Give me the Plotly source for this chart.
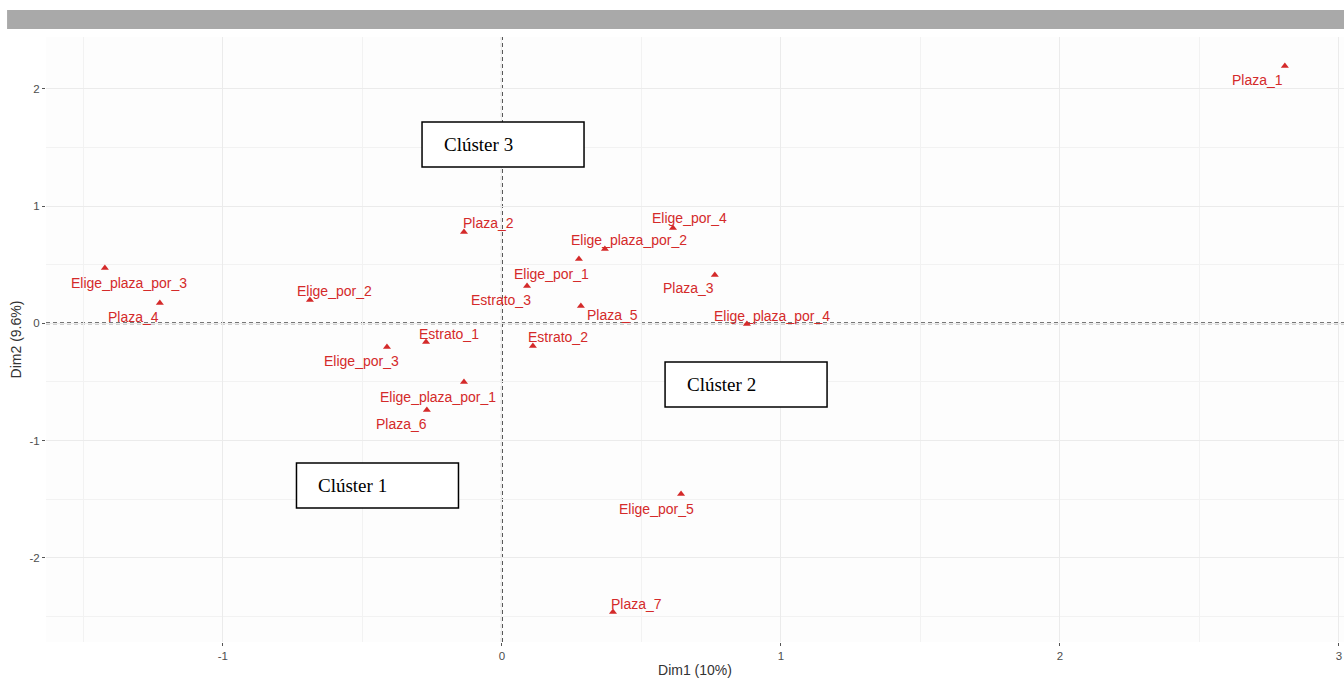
import plotly.graph_objects as go

# MCA variable categories on the first two dimensions
categories = [
    "Plaza_1", "Plaza_2", "Elige_por_4", "Elige_plaza_por_2", "Elige_por_1",
    "Estrato_3", "Plaza_3", "Plaza_5", "Elige_plaza_por_4", "Elige_plaza_por_3",
    "Plaza_4", "Elige_por_2", "Estrato_1", "Elige_por_3", "Estrato_2",
    "Elige_plaza_por_1", "Plaza_6", "Elige_por_5", "Plaza_7",
]
dim1 = [2.806, -0.136, 0.613, 0.369, 0.276, 0.090, 0.763, 0.283, 0.878, -1.423,
        -1.226, -0.688, -0.272, -0.412, 0.111, -0.136, -0.269, 0.642, 0.398]
dim2 = [2.194, 0.779, 0.812, 0.633, 0.548, 0.318, 0.412, 0.148, -0.006, 0.472,
        0.173, 0.199, -0.160, -0.202, -0.194, -0.501, -0.740, -1.455, -2.461]

# repelled label offsets (pixels, right / up)
label_dx = [-27, 25, 17, 24, -27, -26, -26, 32, 25, 24, -26, 25, 23, -25, 25, -26, -25, -25, 24]
label_dy = [-14, 9, 10, 9, -15, -14, -13, -9, 8, -15, -14, 9, 8, -14, 9, -15, -14, -15, 8]

# cluster boxes
cluster_names = ["Clúster 3", "Clúster 2", "Clúster 1"]
cluster_x = [0.004, 0.875, -0.446]
cluster_y = [1.524, -0.522, -1.383]

x_ticks = [-1, 0, 1, 2, 3]
x_ticktext = ["-1", "0", "1", "2", "3"]
y_ticks = [-2, -1, 0, 1, 2]
y_ticktext = ["-2", "-1", "0", "1", "2"]

RED = "#d42a2a"
SANS = "Liberation Sans, Arial, sans-serif"
SERIF = "Liberation Serif, Times New Roman, serif"

fig = go.Figure()
fig.add_trace(go.Scatter(
    x=dim1, y=dim2, mode="markers",
    marker=dict(symbol="triangle-up", size=7, color=RED),
    hovertext=categories, hoverinfo="text", showlegend=False,
))

annotations = []
for name, x, y, dx, dy in zip(categories, dim1, dim2, label_dx, label_dy):
    annotations.append(dict(
        x=x, y=y, xref="x", yref="y", text=name, showarrow=False,
        xshift=dx, yshift=dy, font=dict(family=SANS, size=14, color=RED),
    ))

shapes = [
    # reference lines through the origin
    dict(type="line", xref="x", yref="paper", x0=0, x1=0, y0=0, y1=1,
         line=dict(color="#4a4a4a", width=2, dash="4px,3px"), layer="below"),
    dict(type="line", xref="paper", yref="y", x0=0, x1=1, y0=0, y1=0,
         line=dict(color="#4a4a4a", width=2, dash="4px,3px"), layer="below"),
    # grey strip above the panel
    dict(type="rect", xref="paper", yref="paper", x0=-0.030, x1=1.0,
         y0=1.0132, y1=1.0446, fillcolor="#a9a9a9", line=dict(width=0)),
]

for name, cx, cy in zip(cluster_names, cluster_x, cluster_y):
    shapes.append(dict(
        type="rect", xref="x", yref="y", xsizemode="pixel", ysizemode="pixel",
        xanchor=cx, yanchor=cy, x0=-81, x1=81, y0=-22.5, y1=22.5,
        fillcolor="white", line=dict(color="black", width=1.5), layer="above",
    ))
    annotations.append(dict(
        x=cx, y=cy, xref="x", yref="y", text=name, showarrow=False,
        xanchor="left", xshift=-61, yshift=0,
        font=dict(family=SERIF, size=19, color="black"),
    ))

axis_common = dict(
    showgrid=True, gridcolor="#ebebeb", gridwidth=1,
    zeroline=False, showline=False,
    ticks="outside", ticklen=3, tickwidth=1, tickcolor="#555555",
    tickfont=dict(family=SANS, size=11.5, color="#4d4d4d"),
    minor=dict(dtick=0.5, showgrid=True, gridcolor="#f2f2f2", gridwidth=1),
)

fig.update_layout(
    width=1344, height=680,
    margin=dict(l=46, r=0, t=37, b=38),
    paper_bgcolor="white", plot_bgcolor="#fdfdfd",
    xaxis=dict(
        range=[-1.634, 3.018], tickvals=x_ticks, ticktext=x_ticktext,
        title=dict(text="Dim1 (10%)", font=dict(family=SANS, size=14, color="#333333"), standoff=4),
        automargin=False, **axis_common,
    ),
    yaxis=dict(
        range=[-2.717, 2.441], tickvals=y_ticks, ticktext=y_ticktext,
        title=dict(text="Dim2 (9.6%)", font=dict(family=SANS, size=14, color="#333333"), standoff=4),
        automargin=False, **axis_common,
    ),
    shapes=shapes,
    annotations=annotations,
)

fig.write_html("out.html")
